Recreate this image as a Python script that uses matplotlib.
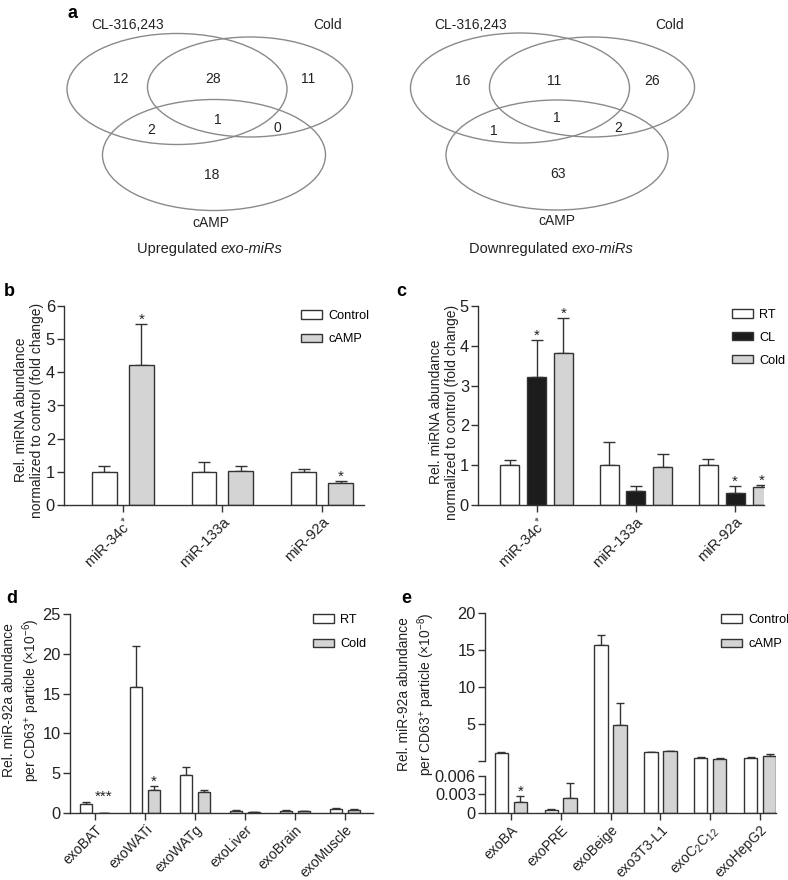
import matplotlib
matplotlib.use('Agg')
import matplotlib.pyplot as plt
from matplotlib.patches import Ellipse
import numpy as np

plt.rcParams['font.family'] = ['Liberation Sans', 'DejaVu Sans']
plt.rcParams['mathtext.fontset'] = 'custom'
plt.rcParams['mathtext.rm'] = 'Liberation Sans'
plt.rcParams['mathtext.it'] = 'Liberation Sans:italic'
plt.rcParams['mathtext.bf'] = 'Liberation Sans:bold'

# ---------------- data ----------------
venn_sets = ['CL-316,243', 'Cold', 'cAMP']
# regions: CL only, CL&Cold, Cold only, CL&cAMP, all three, Cold&cAMP, cAMP only
venn_up = [12, 28, 11, 2, 1, 0, 18]
venn_down = [16, 11, 26, 1, 1, 2, 63]
venn_titles = [('Upregulated ', 'exo-miRs'), ('Downregulated ', 'exo-miRs')]

b_categories = ['miR-34c$^{*}$', 'miR-133a', 'miR-92a']
b_series = ['Control', 'cAMP']
b_control = [1.0, 1.0, 1.0]
b_control_err = [0.18, 0.31, 0.08]
b_camp = [4.21, 1.03, 0.67]
b_camp_err = [1.25, 0.14, 0.05]
b_sig_camp = ['*', '', '*']

c_categories = ['miR-34c$^{*}$', 'miR-133a', 'miR-92a']
c_series = ['RT', 'CL', 'Cold']
c_rt = [1.0, 1.0, 1.0]
c_rt_err = [0.13, 0.59, 0.16]
c_cl = [3.21, 0.34, 0.31]
c_cl_err = [0.93, 0.14, 0.16]
c_cold = [3.81, 0.96, 0.44]
c_cold_err = [0.88, 0.32, 0.05]
c_sig_cl = ['*', '', '*']
c_sig_cold = ['*', '', '*']

d_categories = ['exoBAT', 'exoWATi', 'exoWATg', 'exoLiver', 'exoBrain', 'exoMuscle']
d_series = ['RT', 'Cold']
d_rt = [1.1, 15.8, 4.73, 0.29, 0.25, 0.5]
d_rt_err = [0.22, 5.2, 1.1, 0.09, 0.08, 0.1]
d_cold = [0.05, 2.93, 2.64, 0.1, 0.2, 0.38]
d_cold_err = [0.0, 0.5, 0.26, 0.0, 0.03, 0.07]
d_sig_cold = ['***', '*', '', '', '', '']

e_categories = ['exoBA', 'exoPRE', 'exoBeige', 'exo3T3-L1', 'exoC$_2$C$_{12}$', 'exoHepG2']
e_series = ['Control', 'cAMP']
e_control = [1.12, 0.00042, 15.7, 1.25, 0.4, 0.4]
e_control_err = [0.13, 0.00028, 1.3, 0.0, 0.18, 0.18]
e_camp = [0.00175, 0.00244, 4.84, 1.38, 0.31, 0.71]
e_camp_err = [0.00105, 0.00246, 2.96, 0.0, 0.04, 0.23]
e_sig_camp = ['*', '', '', '', '', '']

# ---------------- style ----------------
EDGE = '#333333'
GRAY = '#d4d4d4'
BLACK = '#1c1c1c'
WHITE = '#ffffff'
TXT = '#222222'
YTICK_FS = 11.8
XTICK_FS = 10.6
XTICK_FS_LOW = 10.1
LAB_FS = 10
LEG_FS = 9.2

W, H = 788, 880
fig = plt.figure(figsize=(W / 100, H / 100), dpi=100)


def px_axes(left, top, right, bottom):
    return fig.add_axes([left / W, 1 - bottom / H, (right - left) / W, (bottom - top) / H])


def style_axes(ax, xfs=XTICK_FS):
    for s in ['top', 'right']:
        ax.spines[s].set_visible(False)
    for s in ['left', 'bottom']:
        ax.spines[s].set_linewidth(1.0)
        ax.spines[s].set_color(EDGE)
    ax.tick_params(direction='out', length=5, width=1.0, color=EDGE, labelcolor=TXT)
    ax.tick_params(axis='y', labelsize=YTICK_FS, pad=1.5)
    ax.tick_params(axis='x', labelsize=xfs, pad=2)


def set_xlabels(ax, pos, labels):
    ax.set_xticks(pos)
    ax.set_xticklabels(labels, rotation=45, ha='right', va='top', rotation_mode='anchor')


def ylabel_px(text, x, y):
    fig.text(x / W, 1 - y / H, text, rotation=90, ha='center', va='center',
             fontsize=LAB_FS, multialignment='center', color=TXT, linespacing=1.25)


def add_legend(ax, handles, labels, x, y, spacing):
    leg = ax.legend(handles, labels, loc='upper left', bbox_to_anchor=(x / W, 1 - y / H),
                    bbox_transform=fig.transFigure, frameon=False, fontsize=LEG_FS,
                    borderpad=0, borderaxespad=0, handlelength=1.65, handleheight=0.6,
                    handletextpad=0.5, labelspacing=spacing)
    return leg


def stars(ax, xs, tops, marks, dys):
    for x, t, m, dy in zip(xs, tops, marks, dys):
        if m:
            ax.annotate(m, (x, t), xytext=(0, dy), textcoords='offset points',
                        ha='center', va='bottom', fontsize=11, color=TXT)


def grouped(ax, x, vals, errs, color, w, capsize):
    bars = ax.bar(x, vals, width=w, color=color, edgecolor=EDGE, linewidth=1.0, zorder=2)
    ax.errorbar(x, vals, yerr=[np.zeros(len(vals)), errs], fmt='none', ecolor=EDGE,
                elinewidth=1.0, capsize=capsize, capthick=1.0, zorder=1)
    return bars


# ---------------- panel a (Venn) ----------------
axv = fig.add_axes([0, 1 - 290 / H, 1, 290 / H])
axv.set_xlim(0, W)
axv.set_ylim(290, 0)
axv.axis('off')

venn_layouts = [
    dict(ell=[(177, 89, 220, 111), (250, 87, 205, 100), (214, 155, 223, 111)],
         names=[(128, 25), (328, 25), (211, 223)],
         regions=[(121, 79), (213, 79), (308, 79), (151, 130), (218, 120), (277, 128), (212, 175)],
         title=(221, 249)),
    dict(ell=[(520, 88, 219, 110), (592, 87, 205, 100), (557, 155, 222, 110)],
         names=[(471, 25), (670, 25), (557, 221)],
         regions=[(463, 81), (554, 81), (652, 81), (494, 131), (557, 118), (618, 128), (558, 174)],
         title=(572, 249)),
]
for lay, counts, ttl in zip(venn_layouts, [venn_up, venn_down], venn_titles):
    for (cx, cy, ew, eh) in lay['ell']:
        axv.add_patch(Ellipse((cx, cy), ew, eh, fill=False, edgecolor='#8a8a8a', linewidth=1.0))
    for name, (nx, ny) in zip(venn_sets, lay['names']):
        axv.text(nx, ny, name, ha='center', va='center', fontsize=10, color=TXT)
    for cnt, (rx, ry) in zip(counts, lay['regions']):
        axv.text(rx, ry, str(cnt), ha='center', va='center', fontsize=10, color=TXT)
    tx, ty = lay['title']
    axv.text(tx, ty, ttl[0], ha='right', va='center', fontsize=10.5, color=TXT)
    axv.text(tx, ty, ttl[1], ha='left', va='center', fontsize=10.5, style='italic', color=TXT)

for letter, lx, ly in [('a', 73, 13), ('b', 9, 292), ('c', 401, 292), ('d', 12, 598), ('e', 406, 598)]:
    fig.text(lx / W, 1 - ly / H, letter, fontsize=13, fontweight='bold', ha='center', va='center')

# ---------------- panel b ----------------
axb = px_axes(64, 306, 364, 505)
style_axes(axb)
xb = np.arange(len(b_categories))
off, w = 0.185, 0.25
hb1 = grouped(axb, xb - off, b_control, b_control_err, WHITE, w, 4.5)
hb2 = grouped(axb, xb + off, b_camp, b_camp_err, GRAY, w, 4.5)
stars(axb, xb + off, np.array(b_camp) + np.array(b_camp_err), b_sig_camp, [-2, -2, -2])
axb.set_xlim(-0.59, 2.42)
axb.set_ylim(0, 6)
axb.set_yticks(range(0, 7))
set_xlabels(axb, xb, b_categories)
ylabel_px('Rel. miRNA abundance\nnormalized to control (fold change)', 29, 410)
add_legend(axb, [hb1, hb2], b_series, 301, 310, 0.88)

# ---------------- panel c ----------------
axc = px_axes(478, 306, 764, 505)
style_axes(axc)
xc = np.arange(len(c_categories))
off, w = 0.27, 0.19
hc1 = grouped(axc, xc - off, c_rt, c_rt_err, WHITE, w, 4.0)
hc2 = grouped(axc, xc, c_cl, c_cl_err, BLACK, w, 4.0)
hc3 = grouped(axc, xc + off, c_cold, c_cold_err, GRAY, w, 4.0)
stars(axc, xc, np.array(c_cl) + np.array(c_cl_err), c_sig_cl, [-2, -2, -2])
stars(axc, xc + off, np.array(c_cold) + np.array(c_cold_err), c_sig_cold, [-2, -2, -2])
axc.set_xlim(-0.59, 2.29)
axc.set_ylim(0, 5)
axc.set_yticks(range(0, 6))
set_xlabels(axc, xc, c_categories)
ylabel_px('Rel. miRNA abundance\nnormalized to control (fold change)', 444, 412)
add_legend(axc, [hc1, hc2, hc3], c_series, 732, 309, 0.85)

# ---------------- panel d ----------------
axd = px_axes(70, 614, 373, 813)
style_axes(axd, XTICK_FS_LOW)
xd = np.arange(len(d_categories))
off, w = 0.18, 0.25
hd1 = grouped(axd, xd - off, d_rt, d_rt_err, WHITE, w, 3.0)
hd2 = grouped(axd, xd + off, d_cold, d_cold_err, GRAY, w, 3.0)
stars(axd, xd + off, np.array(d_cold) + np.array(d_cold_err), d_sig_cold, [6, -2, -2, -2, -2, -2])
axd.set_xlim(-0.5, 5.56)
axd.set_ylim(0, 25)
axd.set_yticks(range(0, 26, 5))
set_xlabels(axd, xd, d_categories)
ylabel_px('Rel. miR-92a abundance\nper CD63$^{+}$ particle (\u00d710$^{-6}$)', 22, 700)
add_legend(axd, [hd1, hd2], d_series, 313, 614, 0.95)

# ---------------- panel e (broken axis) ----------------
BREAK_LOW = 0.006
LOW_TOP = 0.00836
axe_t = px_axes(485, 613, 776, 761)
axe_b = px_axes(485, 761, 776, 813)
for ax in (axe_t, axe_b):
    style_axes(ax, XTICK_FS_LOW)
    ax.patch.set_alpha(0)
axe_t.spines['bottom'].set_visible(False)
axe_t.tick_params(axis='x', bottom=False, labelbottom=False)
xe = np.arange(len(e_categories))
off, w = 0.19, 0.27
ctrl = np.array(e_control); ctrl_e = np.array(e_control_err)
camp = np.array(e_camp); camp_e = np.array(e_camp_err)
# lower segment
he1 = axe_b.bar(xe - off, ctrl, width=w, color=WHITE, edgecolor=EDGE, linewidth=1.0, zorder=2)
he2 = axe_b.bar(xe + off, camp, width=w, color=GRAY, edgecolor=EDGE, linewidth=1.0, zorder=2)
for xs, v, er in [(xe - off, ctrl, ctrl_e), (xe + off, camp, camp_e)]:
    m = v < BREAK_LOW
    axe_b.errorbar(xs[m], v[m], yerr=[np.zeros(m.sum()), er[m]], fmt='none', ecolor=EDGE,
                   elinewidth=1.0, capsize=3, capthick=1.0, zorder=1)
stars(axe_b, xe + off, camp + camp_e, e_sig_camp, [-2] * 6)
axe_b.set_ylim(0, LOW_TOP)
axe_b.spines['left'].set_bounds(0, BREAK_LOW)
axe_b.set_yticks([0, 0.003, 0.006])
axe_b.set_yticklabels(['0', '0.003', '0.006'])
axe_b.set_xlim(-0.52, 5.32)
set_xlabels(axe_b, xe, e_categories)
# upper segment
for xs, v, er, col in [(xe - off, ctrl, ctrl_e, WHITE), (xe + off, camp, camp_e, GRAY)]:
    m = v >= LOW_TOP
    axe_t.bar(xs[m], v[m] + 1, bottom=-1, width=w, color=col, edgecolor=EDGE, linewidth=1.0, zorder=2)
    axe_t.errorbar(xs[m], v[m], yerr=[np.zeros(m.sum()), er[m]], fmt='none', ecolor=EDGE,
                   elinewidth=1.0, capsize=3, capthick=1.0, zorder=1)
axe_t.set_ylim(0, 20)
axe_t.set_yticks([0, 5, 10, 15, 20])
axe_t.set_yticklabels(['', '5', '10', '15', '20'])
axe_t.set_xlim(-0.52, 5.32)
ylabel_px('Rel. miR-92a abundance\nper CD63$^{+}$ particle (\u00d710$^{-8}$)', 417, 694)
add_legend(axe_t, [he1, he2], e_series, 721, 614, 0.95)

fig.savefig('out.png', dpi=100)
